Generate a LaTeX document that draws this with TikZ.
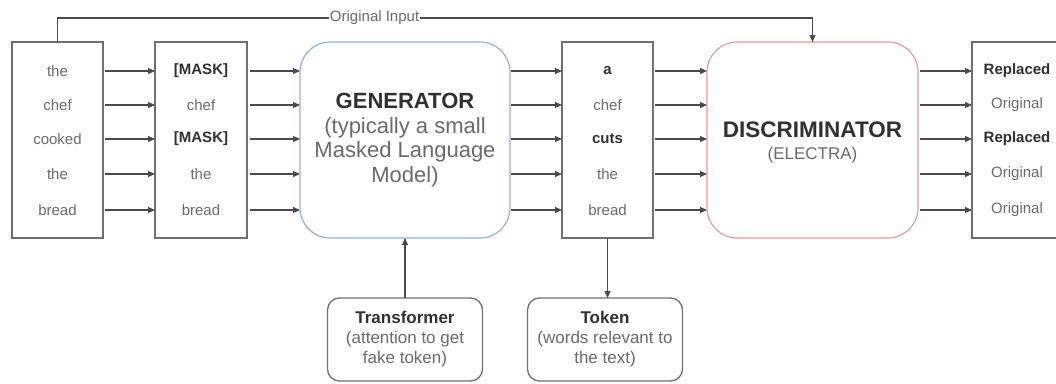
\documentclass[tikz,border=0pt]{standalone}
\usepackage{fontspec}
\setmainfont{Liberation Sans}
\usetikzlibrary{arrows.meta,calc}
\definecolor{linec}{HTML}{4A4A4A}
\definecolor{boxc}{HTML}{707070}
\definecolor{wordc}{HTML}{6A6A6A}
\definecolor{darkc}{HTML}{303030}
\definecolor{genc}{HTML}{8DB3E2}
\definecolor{disc}{HTML}{E89A9A}
\begin{document}
\begin{tikzpicture}[x=1pt,y=-1pt,
  colbox/.style={draw=boxc,line width=1.4pt,minimum width=91pt,minimum height=196pt,inner sep=0pt,outer sep=0pt},
  bigbox/.style={draw=#1,line width=1.2pt,rounded corners=30pt,minimum width=210pt,minimum height=196pt,inner sep=0pt,outer sep=0pt},
  notebox/.style={draw=boxc,line width=1.3pt,rounded corners=12pt,minimum width=155pt,minimum height=83pt,inner sep=0pt,outer sep=0pt,align=center,
     font=\fontsize{17}{20}\selectfont,text=wordc},
  word/.style={font=\fontsize{15}{16}\selectfont,text=wordc,inner sep=0pt},
  bword/.style={font=\fontsize{15}{16}\selectfont\bfseries,text=darkc,inner sep=0pt},
  arr/.style={draw=linec,line width=1.1pt,-{Triangle[length=7pt,width=6pt]}},
]
\useasboundingbox (0,0) rectangle (1056,383);

% column boxes
\node[colbox] (b1) at (57.5,140) {};
\node[colbox,minimum width=92pt] (b2) at (201,140) {};
\node[bigbox=genc] (gen) at (405,140) {};
\node[colbox] (b3) at (607.5,140) {};
\node[bigbox=disc,minimum width=211pt] (dis) at (812.5,140) {};
\node[colbox,minimum width=90pt] (b4) at (1017,140) {};

% words
\node[word] (a1) at (57.5,71) {the};
\node[word] (a2) at (57.5,105) {chef};
\node[word] (a3) at (57.5,139) {cooked};
\node[word] (a4) at (57.5,174) {the};
\node[word] (a5) at (57.5,210) {bread};

\node[bword] (m1) at (201,71) {[MASK]};
\node[word] (m2) at (201,105) {chef};
\node[bword] (m3) at (201,139) {[MASK]};
\node[word] (m4) at (201,174) {the};
\node[word] (m5) at (201,210) {bread};

\node[bword] (g1) at (607.5,71) {a};
\node[word] (g2) at (607.5,105) {chef};
\node[bword] (g3) at (607.5,139) {cuts};
\node[word] (g4) at (607.5,174) {the};
\node[word] (g5) at (607.5,210) {bread};

\node[bword] (r1) at (1017,71) {Replaced};
\node[word] (r2) at (1017,105) {Original};
\node[bword] (r3) at (1017,139) {Replaced};
\node[word] (r4) at (1017,174) {Original};
\node[word] (r5) at (1017,210) {Original};

% big box texts
\node[align=center,inner sep=0pt,text=darkc,font=\fontsize{22}{24.5}\selectfont] (gent) at (gen.center)
  {\textbf{GENERATOR}\\{\color{wordc}(typically a small}\\{\color{wordc}Masked Language}\\{\color{wordc}Model)}};
\node[align=center,inner sep=0pt,text=darkc,font=\fontsize{22.5}{22}\selectfont] (dist) at ($(dis.center)+(0,2)$)
  {\textbf{DISCRIMINATOR}\\{\color{wordc}\fontsize{17}{16}\selectfont (ELECTRA)}};

% row arrows
\foreach \i in {1,...,5}{
  \draw[arr] ([xshift=2pt]a\i.center -| b1.east) -- (a\i.center -| b2.west);
  \draw[arr] ([xshift=3pt]m\i.center -| b2.east) -- (m\i.center -| gen.west);
  \draw[arr] ([xshift=1pt]g\i.center -| gen.east) -- (g\i.center -| b3.west);
  \draw[arr] ([xshift=2pt]g\i.center -| b3.east) -- (g\i.center -| dis.west);
  \draw[arr] ([xshift=2pt]r\i.center -| dis.east) -- (r\i.center -| b4.west);
}

% original input loop
\coordinate (top) at (0,18);
\draw[arr] (b1.north) -- (b1.north |- top) -- node[pos=0.42,fill=white,inner sep=1pt,text=wordc,font=\fontsize{15}{16}\selectfont] (oi) {Original Input} (dis.north |- top) -- (dis.north);

% bottom notes
\node[notebox] (tr) at (405,339.5) {{\color{darkc}\bfseries Transformer}\\(attention to get\\fake token)};
\node[notebox] (tk) at (605,339.5) {{\color{darkc}\bfseries Token}\\(words relevant to\\the text)};
\draw[arr] (tr.north) -- (gen.south);
\draw[arr] (b3.south) -- (b3.south |- tk.north);
\end{tikzpicture}
\end{document}
